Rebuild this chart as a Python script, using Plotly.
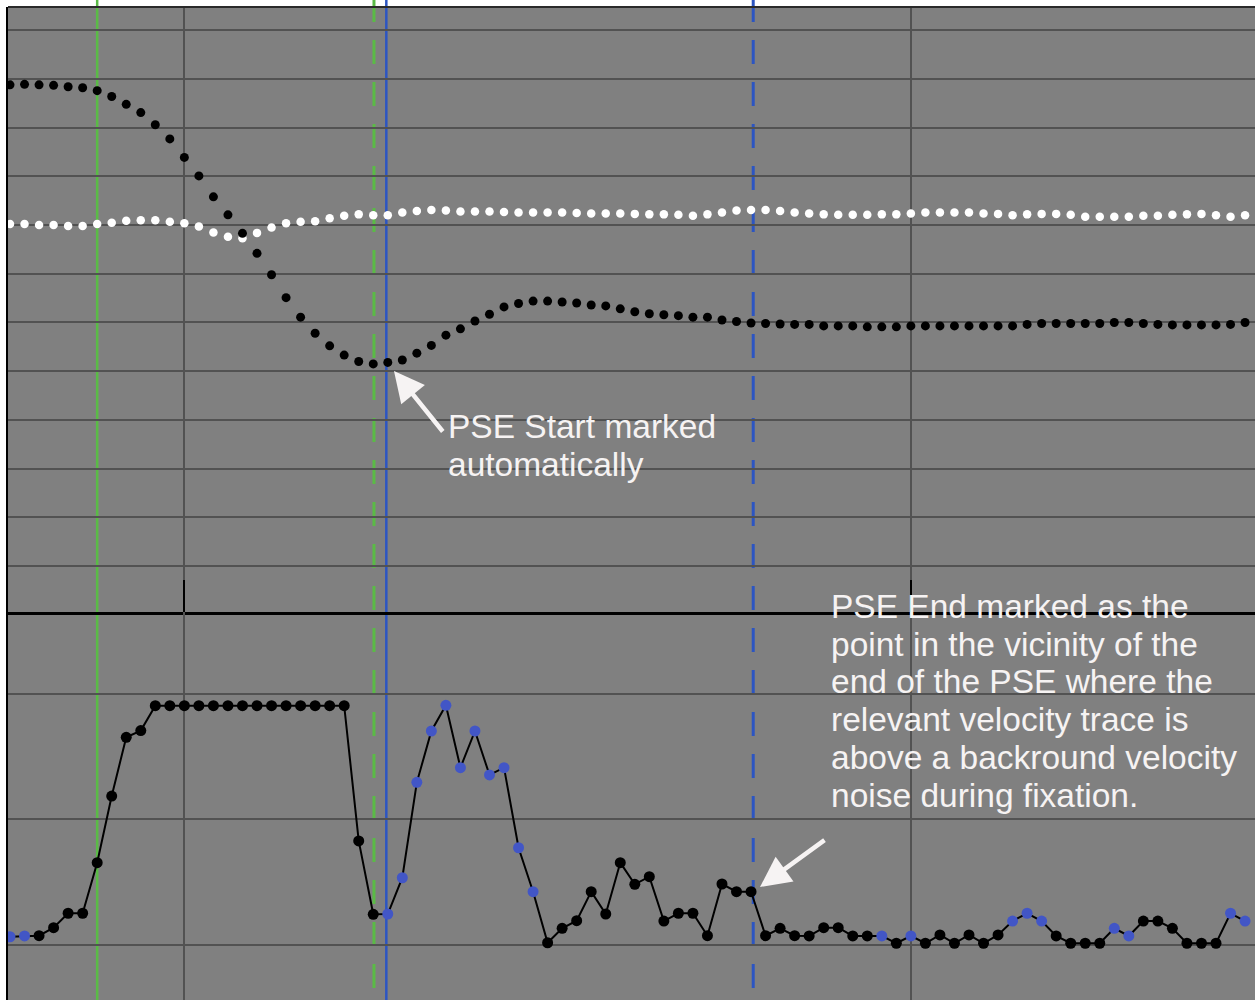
import plotly.graph_objects as go

# ---------------- data (sample index 0..85) ----------------
sample = list(range(86))

# top panel: eye position traces (grid units)
pos_black = [10.88, 10.89, 10.88, 10.87, 10.84, 10.82, 10.76, 10.64, 10.48, 10.31,
             10.06, 9.77, 9.39, 9.01, 8.58, 8.21, 7.83, 7.42, 6.98, 6.51,
             6.11, 5.78, 5.52, 5.33, 5.20, 5.15, 5.18, 5.23, 5.37, 5.53,
             5.74, 5.87, 6.03, 6.17, 6.32, 6.39, 6.44, 6.44, 6.42, 6.40,
             6.36, 6.34, 6.28, 6.22, 6.18, 6.16, 6.14, 6.11, 6.11, 6.05,
             6.02, 5.99, 5.98, 5.97, 5.96, 5.96, 5.93, 5.93, 5.93, 5.91,
             5.91, 5.91, 5.93, 5.93, 5.93, 5.93, 5.93, 5.93, 5.93, 5.93,
             5.96, 5.98, 5.98, 5.98, 5.98, 5.98, 6.00, 6.00, 5.98, 5.96,
             5.95, 5.95, 5.95, 5.95, 5.96, 6.00]

pos_white = [8.02, 8.02, 8.00, 8.00, 7.98, 7.98, 8.02, 8.05, 8.09, 8.10,
             8.10, 8.07, 8.04, 7.97, 7.85, 7.76, 7.73, 7.84, 7.95, 8.04,
             8.07, 8.08, 8.14, 8.19, 8.22, 8.20, 8.20, 8.26, 8.29, 8.31,
             8.30, 8.28, 8.28, 8.28, 8.27, 8.26, 8.26, 8.26, 8.26, 8.25,
             8.24, 8.24, 8.24, 8.23, 8.22, 8.22, 8.21, 8.19, 8.22, 8.26,
             8.30, 8.31, 8.31, 8.29, 8.26, 8.24, 8.22, 8.21, 8.21, 8.21,
             8.22, 8.22, 8.24, 8.26, 8.26, 8.26, 8.26, 8.24, 8.23, 8.20,
             8.22, 8.23, 8.23, 8.21, 8.17, 8.17, 8.17, 8.17, 8.19, 8.19,
             8.21, 8.22, 8.23, 8.20, 8.17, 8.20]

# bottom panel: velocity trace
velocity = [6.6, 7.2, 7.4, 13.8, 25.3, 25.3, 65.6, 118.7, 165.5, 170.8,
            190.7, 190.7, 190.7, 190.7, 190.7, 190.7, 190.7, 190.7, 190.7, 190.7,
            190.7, 190.7, 190.7, 190.7,
            82.9, 24.5, 24.7, 53.6, 129.6, 170.5, 191.0, 141.3, 170.5, 135.5,
            141.3, 77.5, 42.5, 1.8, 13.3, 19.4, 42.5, 24.7, 65.6, 48.4,
            54.4, 19.1, 25.3, 25.3, 7.4, 48.6, 42.5, 42.5, 7.4, 13.3,
            7.4, 7.2, 13.8, 13.8, 7.2, 7.2, 7.2, 1.4, 7.2, 1.4,
            8.0, 1.4, 8.0, 1.4, 8.0, 19.1, 25.3, 19.1, 7.2, 1.4,
            1.4, 1.4, 13.3, 7.2, 19.1, 19.1, 13.3, 1.4, 1.4, 1.4,
            25.3, 19.1]

# samples highlighted in blue on the velocity trace
blue_idx = [0, 1, 26, 27, 28, 29, 30, 31, 32, 33, 34, 35, 36,
            60, 62, 69, 70, 71, 76, 77, 84, 85]

# event markers (sample index)
event_x = [6.0, 25.05, 25.9, 51.15]
event_color = ['#5abb46', '#5abb46', '#2c55c2', '#2c55c2']
event_dash = ['solid', '24px,18px', 'solid', '24px,18px']

note_start = ["PSE Start marked", "automatically"]
note_end = ["PSE End marked as the",
            "point in the vicinity of the",
            "end of the PSE where the",
            "relevant velocity trace is",
            "above a backround velocity",
            "noise during fixation."]

# ---------------- layout geometry ----------------
W, H = 1255, 1000
ML, MT = 8, 7
PW, PH = W - ML, H - MT


def px(X):
    return (X - ML) / PW


def py(Y):
    return (H - Y) / PH


split = py(612)
GRID = '#525252'
BG = '#808080'
TXT = '#f6f3f3'
FONT = 'Liberation Sans, Arial, sans-serif'

vel_colors = ['#4256c6' if i in blue_idx else '#000000' for i in sample]

fig = go.Figure()
fig.add_trace(go.Scatter(x=sample, y=pos_white, mode='markers',
                         marker=dict(color='#ffffff', size=8.5, line=dict(width=0)),
                         xaxis='x', yaxis='y', hoverinfo='skip'))
fig.add_trace(go.Scatter(x=sample, y=pos_black, mode='markers',
                         marker=dict(color='#000000', size=9, line=dict(width=0)),
                         xaxis='x', yaxis='y', hoverinfo='skip'))
fig.add_trace(go.Scatter(x=sample, y=velocity, mode='lines+markers',
                         line=dict(color='#000000', width=2),
                         marker=dict(color=vel_colors, size=11, line=dict(width=0)),
                         xaxis='x2', yaxis='y2', hoverinfo='skip'))

xrange = [-0.1376, 85.684]
common_x = dict(range=xrange, showgrid=True, gridcolor=GRID, gridwidth=2,
                tick0=12, dtick=50, zeroline=False, showticklabels=False,
                fixedrange=True)
common_y = dict(showgrid=True, gridcolor=GRID, gridwidth=2, zeroline=False,
                showticklabels=False, ticks='', showline=True, linecolor='#000000',
                linewidth=2, fixedrange=True)

fig.update_layout(
    template='none',
    width=W, height=H,
    margin=dict(l=ML, r=0, t=MT, b=0, autoexpand=False),
    paper_bgcolor='#ffffff',
    plot_bgcolor=BG,
    showlegend=False,
    xaxis=dict(**common_x, anchor='y', ticks='inside', ticklen=32, tickwidth=2,
               tickcolor='#000000', showline=True, linecolor='#000000', linewidth=3),
    xaxis2=dict(**common_x, anchor='y2', matches='x', ticks='', showline=False),
    yaxis=dict(**common_y, domain=[split, 1], range=[0.0554, 12.478], tick0=0, dtick=1),
    yaxis2=dict(**common_y, domain=[0, split], range=[-43.8, 265.3], tick0=0, dtick=100),
)

shapes = []
for xv, col, dsh in zip(event_x, event_color, event_dash):
    shapes.append(dict(type='line', xref='x', yref='paper', x0=xv, x1=xv,
                       y0=py(-2), y1=0, layer='between',
                       line=dict(color=col, width=2.5 if dsh == 'solid' else 3, dash=dsh)))
shapes.append(dict(type='line', xref='paper', yref='paper', x0=0, x1=1, y0=1, y1=1,
                   line=dict(color='#2a2a2a', width=2)))
fig.update_layout(shapes=shapes)

annos = []
for k, t in enumerate(note_start):
    annos.append(dict(text=t, x=px(446), y=py(426 + 38 * k), xref='paper', yref='paper',
                      xanchor='left', yanchor='middle', showarrow=False,
                      font=dict(family=FONT, size=33.5, color=TXT)))
for k, t in enumerate(note_end):
    annos.append(dict(text=t, x=px(829), y=py(606.5 + 37.7 * k), xref='paper', yref='paper',
                      xanchor='left', yanchor='middle', showarrow=False,
                      font=dict(family=FONT, size=33.5, color=TXT)))
annos.append(dict(text='', x=px(394), y=py(371), xref='paper', yref='paper',
                  ax=50, ay=62, axref='pixel', ayref='pixel', showarrow=True,
                  arrowhead=2, arrowsize=1.35, arrowwidth=4.5, arrowcolor=TXT, standoff=0))
annos.append(dict(text='', x=px(760), y=py(887), xref='paper', yref='paper',
                  ax=66, ay=-48, axref='pixel', ayref='pixel', showarrow=True,
                  arrowhead=2, arrowsize=1.35, arrowwidth=4.5, arrowcolor=TXT, standoff=0))
fig.update_layout(annotations=annos)

fig.write_html("out.html", config={'displayModeBar': False, 'staticPlot': True})
